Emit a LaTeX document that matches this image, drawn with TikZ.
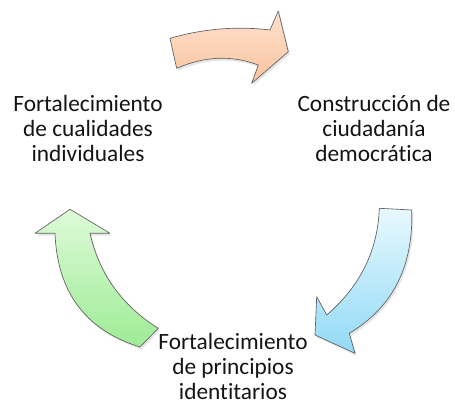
\documentclass[tikz,border=0pt]{standalone}
\usepackage{fontspec}
\setmainfont{Carlito}[Ligatures={NoCommon}]
\usetikzlibrary{shadows}
\definecolor{orTop}{RGB}{253,226,206}
\definecolor{orBot}{RGB}{250,195,158}
\definecolor{blTop}{RGB}{232,248,254}
\definecolor{blBot}{RGB}{145,218,246}
\definecolor{grTop}{RGB}{222,250,216}
\definecolor{grBot}{RGB}{158,236,150}
\definecolor{edge}{RGB}{95,95,95}
\begin{document}
\begin{tikzpicture}[x=0.75pt,y=-0.75pt,
  arrowshape/.style={draw=edge, line width=0.5pt, line join=round,
    drop shadow={shadow xshift=1.2pt, shadow yshift=-1.8pt, opacity=0.22, fill=black!45}},
  lbl/.style={align=center, font=\fontsize{17.5}{18.75}\selectfont, inner sep=0pt, text=black!92}]
\useasboundingbox (0,0) rectangle (455,405);

% orange arrow (top)
\path[arrowshape, top color=orTop, bottom color=orBot]
  (170,38.3) .. controls (203.3,28.7) and (236.7,25.9) .. (270,30)
  -- (278.3,11) -- (288.3,51.7) -- (251.7,83.3) -- (258.3,65)
  .. controls (231.8,55.0) and (204.6,56.1) .. (176.7,68.3) -- cycle;

% blue arrow (right)
\path[arrowshape, top color=blTop, bottom color=blBot]
  (379.3,208.3) -- (411.7,210)
  .. controls (413.6,266.2) and (392.8,307.3) .. (349.3,333.3)
  -- (355,353.3) -- (315,335) -- (316.7,296.7) -- (326.7,315)
  .. controls (360.2,286.2) and (377.8,250.6) .. cycle;

% green arrow (left)
\path[arrowshape, top color=grTop, bottom color=grBot]
  (70,209.3) -- (110,233.3) -- (90,233.3)
  .. controls (99.2,273.9) and (122.0,305.6) .. (158.3,328.3)
  -- (140,347)
  .. controls (85.7,330.2) and (57.3,292.3) .. (55,233.3)
  -- (35,233.3) -- cycle;

\node[lbl, anchor=base] (t1) at (88,161.7) {Fortalecimiento\\de cualidades\\individuales};
\node[lbl, anchor=base] (t2) at (374,161.7) {Construcción de\\ciudadanía\\democrática};
\node[lbl, anchor=base] (t3) at (233,399) {Fortalecimiento\\de principios\\identitarios};
\end{tikzpicture}
\end{document}
